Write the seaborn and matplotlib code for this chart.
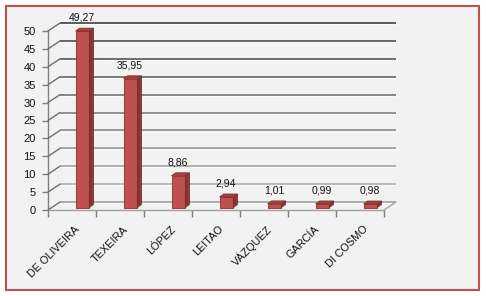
import numpy as np
import matplotlib
matplotlib.use("Agg")
import matplotlib.pyplot as plt
import seaborn as sns
from matplotlib.transforms import ScaledTranslation, IdentityTransform
from matplotlib.patches import Polygon, Rectangle
from matplotlib.lines import Line2D
from matplotlib.colors import to_rgb

categories = ["DE OLIVEIRA", "TEXEIRA", "LÓPEZ", "LEITAO", "VÁZQUEZ", "GARCÍA", "DI COSMO"]
values = [49.27, 35.95, 8.86, 2.94, 1.01, 0.99, 0.98]
y_ticks = [0, 5, 10, 15, 20, 25, 30, 35, 40, 45, 50]

sns.set_style("white")
plt.rcParams["font.family"] = ["Liberation Sans", "DejaVu Sans"]

W, H = 486, 296
DPI = 100
fig = plt.figure(figsize=(W / DPI, H / DPI), dpi=DPI)
fig.patch.set_facecolor("white")

# chart area frame
fig.add_artist(Rectangle((5.5, 6.0), 473.5, 284.0, transform=IdentityTransform(),
                         facecolor="#f2f2f2", edgecolor="#c0504d", lw=1.5, zorder=-5))

# front plane axes: x 48..384 px, y 210..31 px (from top)
ax = fig.add_axes([48 / W, (H - 210) / H, (384 - 48) / W, (210 - 31) / H])
ax.patch.set_alpha(0)

sns.barplot(x=categories, y=values, color="#c0504d", saturation=1, width=0.29,
            edgecolor="#8f2f2c", linewidth=0.6, ax=ax, zorder=3)

ax.set_xlim(-0.5, len(categories) - 0.5)
ax.set_ylim(0, 50)

px = fig.dpi_scale_trans
back = ScaledTranslation(12 / DPI, 8 / DPI, px)

c_dark = np.array(to_rgb("#4f4f4f"))
c_light = np.array(to_rgb("#b4b4b4"))

# back wall gridlines + connectors
for y in y_ticks:
    if y == 0:
        col = "#a6a6a6"
    else:
        t = (y - 5) / 45
        col = tuple(c_light * (1 - t) + c_dark * t)
    ax.plot([-0.5, len(categories) - 0.5], [y, y], transform=ax.transData + back,
            color=col, lw=1.3, clip_on=False, zorder=1, solid_capstyle="butt")
    ax.plot([-0.5, len(categories) - 0.5], [y, y],
            transform=ax.transData + back + ScaledTranslation(0, -1.2 / DPI, px),
            color="#fafafa", lw=0.8, clip_on=False, zorder=0.9, solid_capstyle="butt")
    p0 = ax.transData.transform((-0.5, y))
    fig.add_artist(Line2D([p0[0], p0[0] + 12], [p0[1], p0[1] + 8],
                          transform=IdentityTransform(), color="#6e6e6e", lw=1.0))

# floor right diagonal
p0 = ax.transData.transform((len(categories) - 0.5, 0))
fig.add_artist(Line2D([p0[0], p0[0] + 12], [p0[1], p0[1] + 8],
                      transform=IdentityTransform(), color="#a6a6a6", lw=1.0))

# 3D bars
shift = ScaledTranslation(10.5 / DPI, 2.5 / DPI, px)
dx, dy = 4, 3
for p in list(ax.patches):
    tr = ax.transData + shift
    p.set_transform(tr)
    x0, x1 = p.get_x(), p.get_x() + p.get_width()
    yb, yt = p.get_y(), p.get_y() + p.get_height()
    (X0, Yb), (X1, Yt) = tr.transform([(x0, yb), (x1, yt)])
    side = Polygon([(X1, Yb), (X1 + dx, Yb + dy), (X1 + dx, Yt + dy), (X1, Yt)],
                   closed=True, transform=IdentityTransform(),
                   facecolor="#8c3533", edgecolor="#6e2523", lw=0.5)
    top = Polygon([(X0, Yt), (X1, Yt), (X1 + dx, Yt + dy), (X0 + dx, Yt + dy)],
                  closed=True, transform=IdentityTransform(),
                  facecolor="#a8403d", edgecolor="#7a2a28", lw=0.5)
    fig.add_artist(side)
    fig.add_artist(top)

# value labels
lab_tr = ax.transData + ScaledTranslation(10 / DPI, 13 / DPI, px)
for i, v in enumerate(values):
    ax.text(i, v, f"{v:.2f}".replace(".", ","), transform=lab_tr, ha="center",
            va="baseline", fontsize=7.5, color="#111111", clip_on=False)

# spines / ticks
for s in ["top", "right"]:
    ax.spines[s].set_visible(False)
ax.spines["left"].set_color("#808080")
ax.spines["bottom"].set_color("#a0a0a0")
ax.spines["left"].set_linewidth(1.0)
ax.spines["bottom"].set_linewidth(1.0)

ax.set_yticks(y_ticks)
ax.set_yticklabels([str(t) for t in y_ticks])
ax.tick_params(axis="y", length=4, width=1, color="#808080", pad=5.0,
               labelsize=8, labelcolor="#111111", left=True)

ax.set_xticks(range(len(categories)))
ax.set_xticklabels(categories, rotation=45, ha="right", rotation_mode="anchor")
ax.set_xticks(np.arange(-0.5, len(categories), 1.0), minor=True)
ax.tick_params(axis="x", which="major", length=0, pad=0, labelsize=7.8, labelcolor="#111111")
ax.tick_params(axis="x", which="minor", length=5, width=1, color="#808080", bottom=True)
for lab in ax.get_xticklabels():
    lab.set_transform(lab.get_transform() + ScaledTranslation(2.5 / DPI, -14 / DPI, px))

ax.set_xlabel("")
ax.set_ylabel("")

fig.savefig("out.png", dpi=DPI, facecolor="white")
